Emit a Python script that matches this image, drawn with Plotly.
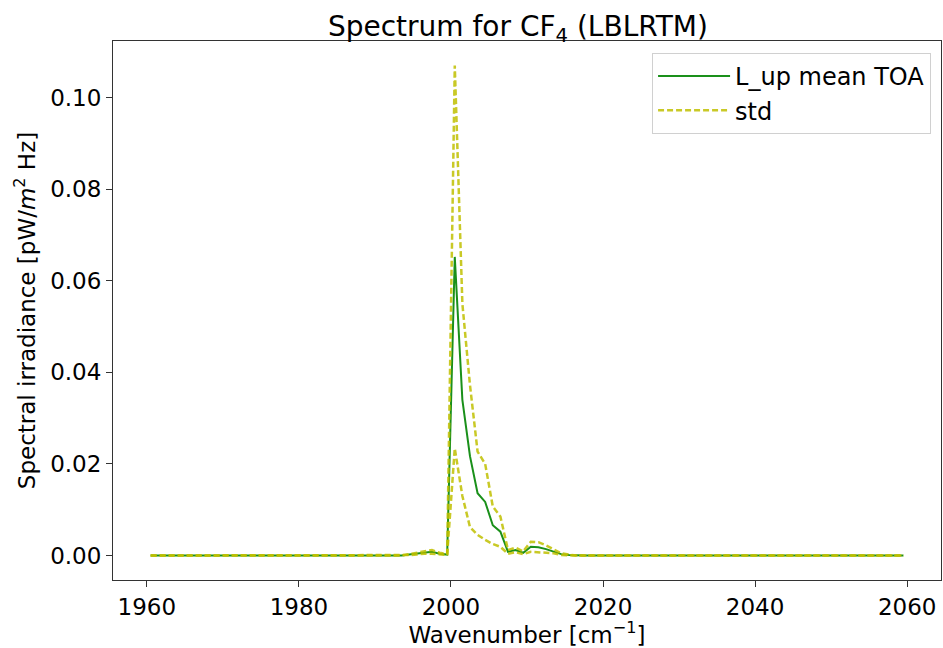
import numpy as np
import plotly.graph_objects as go

# Spectral grid (cm^-1), 1 cm^-1 bins centred on half-integers
wavenumber = np.arange(1960.5, 2060.0, 1.0)

# Mean upwelling TOA spectral irradiance [pW/m^2 Hz]
l_up_mean = [
    0.0, 0.0, 0.0, 0.0, 0.0, 0.0, 0.0, 0.0, 0.0, 0.0,      # 1960.5-1969.5
    0.0, 0.0, 0.0, 0.0, 0.0, 0.0, 0.0, 0.0, 0.0, 0.0,      # 1970.5-1979.5
    0.0, 0.0, 0.0, 0.0, 0.0, 0.0, 0.0, 0.0, 0.0, 0.0,      # 1980.5-1989.5
    0.0, 0.0, 0.0, 0.0, 0.0002, 0.0004, 0.0007, 0.0008, 0.0004, 0.0002,  # 1990.5-1999.5
    0.0652, 0.0340, 0.0217, 0.0136, 0.0117, 0.0066, 0.0052, 0.0008, 0.0012, 0.0006,  # 2000.5-2009.5
    0.0019, 0.0018, 0.0014, 0.0009, 0.0003, 0.0001, 0.0, 0.0, 0.0, 0.0,  # 2010.5-2019.5
    0.0, 0.0, 0.0, 0.0, 0.0, 0.0, 0.0, 0.0, 0.0, 0.0,      # 2020.5-2029.5
    0.0, 0.0, 0.0, 0.0, 0.0, 0.0, 0.0, 0.0, 0.0, 0.0,      # 2030.5-2039.5
    0.0, 0.0, 0.0, 0.0, 0.0, 0.0, 0.0, 0.0, 0.0, 0.0,      # 2040.5-2049.5
    0.0, 0.0, 0.0, 0.0, 0.0, 0.0, 0.0, 0.0, 0.0, 0.0,      # 2050.5-2059.5
]

# Standard deviation of the upwelling TOA irradiance
l_up_std = [
    0.0, 0.0, 0.0, 0.0, 0.0, 0.0, 0.0, 0.0, 0.0, 0.0,
    0.0, 0.0, 0.0, 0.0, 0.0, 0.0, 0.0, 0.0, 0.0, 0.0,
    0.0, 0.0, 0.0, 0.0, 0.0, 0.0, 0.0, 0.0, 0.0, 0.0,
    0.0, 0.0, 0.0, 0.0, 0.0001, 0.0002, 0.0003, 0.0004, 0.0002, 0.0001,
    0.0418, 0.0210, 0.0155, 0.0091, 0.0083, 0.0041, 0.0033, 0.0004, 0.0005, 0.0003,
    0.0011, 0.0011, 0.0008, 0.0004, 0.0002, 0.0001, 0.0, 0.0, 0.0, 0.0,
    0.0, 0.0, 0.0, 0.0, 0.0, 0.0, 0.0, 0.0, 0.0, 0.0,
    0.0, 0.0, 0.0, 0.0, 0.0, 0.0, 0.0, 0.0, 0.0, 0.0,
    0.0, 0.0, 0.0, 0.0, 0.0, 0.0, 0.0, 0.0, 0.0, 0.0,
    0.0, 0.0, 0.0, 0.0, 0.0, 0.0, 0.0, 0.0, 0.0, 0.0,
]

mean = np.array(l_up_mean)
std = np.array(l_up_std)
upper = mean + std
lower = mean - std

GREEN = "#1a901a"
YELLOW = "rgba(191,191,0,0.85)"
DASH = "6px,3px"
FONT = "DejaVu Sans, Verdana, sans-serif"
TICK_SIZE = 23
LABEL_SIZE = 23

fig = go.Figure()
fig.add_trace(go.Scatter(x=wavenumber, y=mean, mode="lines", name="L_up mean TOA",
                         line=dict(color=GREEN, width=2)))
fig.add_trace(go.Scatter(x=wavenumber, y=upper, mode="lines", name="std",
                         legendgroup="std",
                         line=dict(color=YELLOW, width=2.5, dash=DASH)))
fig.add_trace(go.Scatter(x=wavenumber, y=lower, mode="lines", name="std",
                         legendgroup="std", showlegend=False,
                         line=dict(color=YELLOW, width=2.5, dash=DASH)))

# matplotlib-style 5% margins around the data
x_span = wavenumber[-1] - wavenumber[0]
y_max = float(upper.max())
y_min = float(min(lower.min(), 0.0))
y_span = y_max - y_min

axis_common = dict(
    showgrid=False, zeroline=False,
    showline=True, linecolor="#333333", linewidth=1, mirror=True,
    ticks="outside", ticklen=6, tickwidth=1, tickcolor="#333333",
    tickfont=dict(size=TICK_SIZE, color="black", family=FONT),
)

fig.update_xaxes(
    range=[wavenumber[0] - 0.05 * x_span, wavenumber[-1] + 0.05 * x_span],
    dtick=20, tick0=1960,
    title=dict(text="Wavenumber [cm<sup>\u22121</sup>]",
               font=dict(size=LABEL_SIZE, color="black", family=FONT), standoff=3),
    automargin=False,
    **axis_common,
)
fig.update_yaxes(
    range=[y_min - 0.05 * y_span, y_max + 0.05 * y_span],
    dtick=0.02, tick0=0, tickformat=".2f",
    title=dict(text="Spectral irradiance [pW/<i>m</i><sup>2</sup> Hz]",
               font=dict(size=LABEL_SIZE, color="black", family=FONT), standoff=8),
    automargin=False,
    **axis_common,
)

fig.update_layout(
    width=943, height=648,
    margin=dict(l=113, r=2, t=41, b=68),
    paper_bgcolor="white", plot_bgcolor="white",
    font=dict(family=FONT, color="black"),
    title=dict(text="Spectrum for CF<sub>4</sub> (LBLRTM)",
               font=dict(size=28, color="black", family=FONT),
               x=0.489, xref="paper", xanchor="center",
               y=1, yref="paper", yanchor="bottom", pad=dict(b=5)),
    legend=dict(x=0.988, y=0.978, xanchor="right", yanchor="top",
                bgcolor="white", bordercolor="#d0d0d0", borderwidth=1,
                font=dict(size=24, color="black", family=FONT),
                itemwidth=72, tracegroupgap=0),
    showlegend=True,
)

fig.write_html("out.html")
